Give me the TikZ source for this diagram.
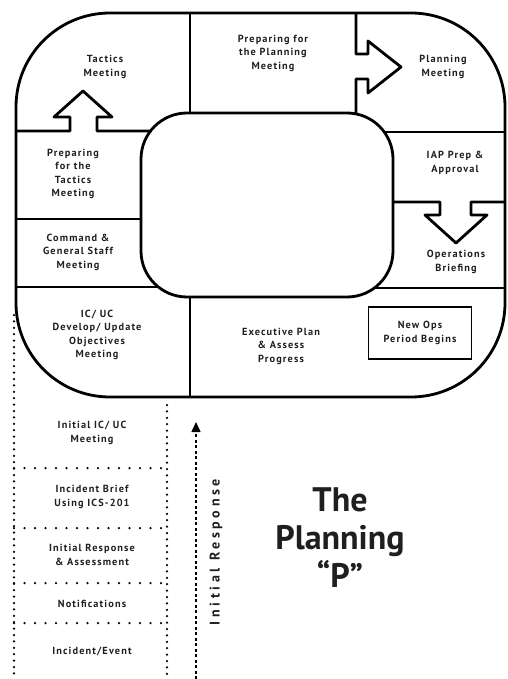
\documentclass[tikz,border=0pt]{standalone}
\usepackage{fontspec}
\setmainfont{PT Sans}
\newfontfamily\lblfont[LetterSpace=11]{PT Sans}
\newfontfamily\rotfont[LetterSpace=26]{PT Sans}
\usetikzlibrary{arrows.meta}
\definecolor{ink}{gray}{0.12}
\tikzset{
  mainline/.style={draw=black, line width=2.8pt, line join=round},
  lbl/.style={align=center, text=ink, font=\lblfont\bfseries\fontsize{10.3}{13.5}\selectfont, inner sep=0pt},
  dotv/.style={draw=black, line width=2.5pt, line cap=round, dash pattern=on 0pt off 6.4pt},
  doth/.style={draw=black, line width=2.5pt, line cap=round, dash pattern=on 0pt off 10.5pt},
  opsbox/.style={draw=black, line width=1.5pt, minimum width=103pt, minimum height=52pt, inner sep=0pt}
}
\begin{document}
\begin{tikzpicture}[x=1pt, y={(0pt,-1pt)}]
\useasboundingbox (0,0) rectangle (507,679);
% outer shape
\draw[mainline, rounded corners=94pt] (16,13) rectangle (505,397);
% dividing lines with block arrows
\draw[mainline] (190,13) -- (190,120);
\draw[mainline] (356,13) -- (356,54) -- (368,54) -- (368,41) -- (401,67) -- (368,93) -- (368,79) -- (356,79) -- (356,125);
\draw[mainline] (16,131) -- (70,131) -- (70,117) -- (54,117) -- (83,91) -- (112,117) -- (97,117) -- (97,131) -- (165,131);
\draw[mainline] (370,132) -- (505,132);
\draw[mainline] (380,202) -- (440,202) -- (440,215) -- (425,215) -- (456,243) -- (487,215) -- (471,215) -- (471,202) -- (505,202);
\draw[mainline] (16,219) -- (150,219);
\draw[mainline] (16,287) -- (175,287);
\draw[mainline] (360,288) -- (505,288);
\draw[mainline] (190,290) -- (190,397);
% inner rounded rectangle
\draw[mainline, fill=white, rounded corners=46pt] (141,113) rectangle (393,297);
% labels in the loop
\node[lbl] (tactics) at (105,67) {Tactics\\Meeting};
\node[lbl] (prepplan) at (273,53) {Preparing for\\the Planning\\Meeting};
\node[lbl] (planning) at (443,67) {Planning\\Meeting};
\node[lbl] (iap) at (455,163) {IAP Prep \&\\Approval};
\node[lbl] (ops) at (456,262) {Operations\\Briefing};
\node[opsbox] (newops) at (420,333) {};
\node[lbl] (newopstext) at (newops) {New Ops\\Period Begins};
\node[lbl] (exec) at (281,346) {Executive Plan\\\& Assess\\Progress};
\node[lbl] (icuc) at (97,335) {IC/ UC\\Develop/ Update\\Objectives\\Meeting};
\node[lbl] (cgs) at (78,252) {Command \&\\General Staff\\Meeting};
\node[lbl] (preptac) at (73,174) {Preparing\\for the\\Tactics\\Meeting};
% initial response stem
\draw[dotv] (14,315) -- (14,679);
\draw[dotv] (167,405) -- (167,679);
\draw[doth] (14,468) -- (167,468);
\draw[doth] (14,528) -- (167,528);
\draw[doth] (14,583) -- (167,583);
\draw[doth] (14,623) -- (167,623);
\node[lbl] (initmeet) at (92,433) {Initial IC/ UC\\Meeting};
\node[lbl] (brief) at (92,497) {Incident Brief\\Using ICS-201};
\node[lbl] (initresp) at (92,555) {Initial Response\\\& Assessment};
\node[lbl] (notif) at (92,604) {Notifications};
\node[lbl] (event) at (92,652) {Incident/Event};
% dashed arrow
\coordinate (arrbot) at (196,679);
\coordinate (arrtop) at (196,422);
\draw[draw=black, line width=1.5pt, dash pattern=on 3pt off 2.5pt, -{Triangle[length=10pt, width=9pt]}] (arrbot) -- (arrtop);
\node[text=ink, font=\rotfont\bfseries\fontsize{14}{16}\selectfont, rotate=90, inner sep=0pt] (irlabel) at (216,552) {Initial Response};
% title
\node[align=center, text=ink, font=\bfseries\fontsize{34}{38}\selectfont, inner sep=0pt] (title) at (340,538) {The\\Planning\\“P”};
\end{tikzpicture}
\end{document}
